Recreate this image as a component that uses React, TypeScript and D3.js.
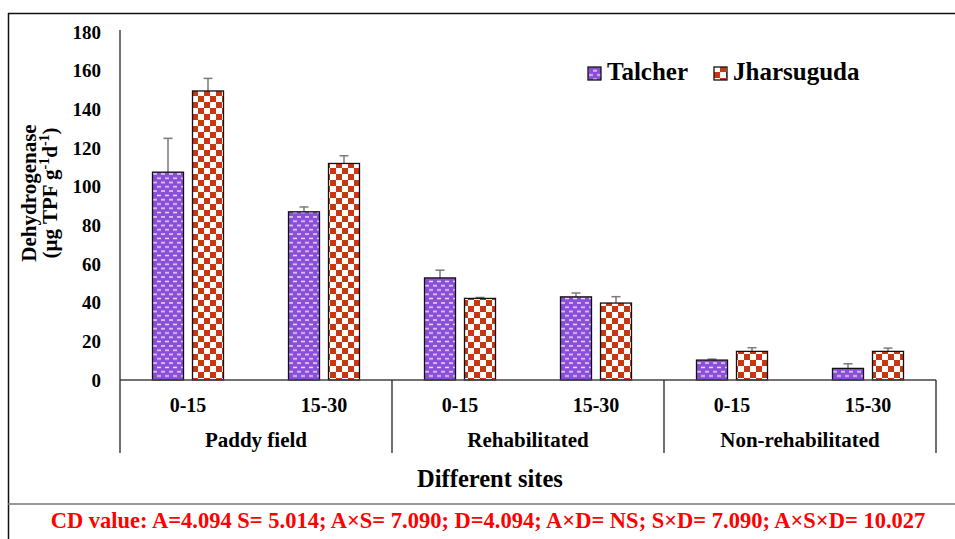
import React, { useRef, useEffect } from 'react';
import * as d3 from 'd3';

const sites = ['Paddy field', 'Rehabilitated', 'Non-rehabilitated'];
const depths = ['0-15', '15-30'];
const seriesNames = ['Talcher', 'Jharsuguda'];
// values ordered site by site, depth by depth
const talcher = [107.5, 87, 52.8, 43, 10.3, 6];
const talcherErr = [17.5, 2.5, 4, 2, 0.5, 2.4];
const jharsuguda = [149.5, 112, 42.2, 39.8, 14.8, 14.8];
const jharsugudaErr = [6.5, 4, 0.5, 3.3, 1.9, 1.7];
const yTicks = [0, 20, 40, 60, 80, 100, 120, 140, 160, 180];
const cdText =
  'CD value: A=4.094 S= 5.014; A×S= 7.090; D=4.094; A×D= NS; S×D= 7.090; A×S×D= 10.027';

const FONT = '"Liberation Serif", "Times New Roman", serif';
const PURPLE = '#8A4ED8';
const RED = '#C8370F';

function App() {
  const chartRef = useRef<SVGSVGElement>(null);

  useEffect(() => {
    drawChart();
  }, []);

  const drawChart = () => {
    const svg = d3.select(chartRef.current);
    svg.selectAll('*').remove();

    const left = 120;
    const right = 936;
    const top = 32;
    const bottom = 380;

    // patterns
    const defs = svg.append('defs');
    const p1 = defs
      .append('pattern')
      .attr('id', 'purp')
      .attr('patternUnits', 'userSpaceOnUse')
      .attr('width', 8)
      .attr('height', 8.6);
    p1.append('rect').attr('width', 8).attr('height', 8.6).attr('fill', PURPLE);
    p1.append('rect').attr('x', 1).attr('y', 1.2).attr('width', 4).attr('height', 1.4).attr('fill', '#fff').attr('opacity', 0.85);
    p1.append('rect').attr('x', 5).attr('y', 5.5).attr('width', 4).attr('height', 1.4).attr('fill', '#fff').attr('opacity', 0.85);
    p1.append('rect').attr('x', -3).attr('y', 5.5).attr('width', 4).attr('height', 1.4).attr('fill', '#fff').attr('opacity', 0.85);

    const p2 = defs
      .append('pattern')
      .attr('id', 'check')
      .attr('patternUnits', 'userSpaceOnUse')
      .attr('width', 12)
      .attr('height', 12);
    p2.append('rect').attr('width', 12).attr('height', 12).attr('fill', RED);
    p2.append('rect').attr('x', 0).attr('y', 0).attr('width', 6).attr('height', 6).attr('fill', '#fff');
    p2.append('rect').attr('x', 6).attr('y', 6).attr('width', 6).attr('height', 6).attr('fill', '#fff');

    const fills = ['url(#purp)', 'url(#check)'];

    // frame
    svg.append('line').attr('x1', 8).attr('x2', 955).attr('y1', 13.5).attr('y2', 13.5).attr('stroke', '#111').attr('stroke-width', 1.5);
    svg.append('line').attr('x1', 8.5).attr('x2', 8.5).attr('y1', 13).attr('y2', 539).attr('stroke', '#111').attr('stroke-width', 1.5);
    svg.append('line').attr('x1', 8).attr('x2', 955).attr('y1', 504).attr('y2', 504).attr('stroke', '#777').attr('stroke-width', 1.5);

    const y = d3.scaleLinear().domain([0, 180]).range([bottom, top]);
    const xSite = d3.scaleBand().domain(sites).range([left, right]);
    const xDepth = d3.scaleBand().domain(depths).range([0, xSite.bandwidth()]);
    const xSeries = d3
      .scaleBand()
      .domain(seriesNames)
      .range([xDepth.bandwidth() / 2 - 35.5, xDepth.bandwidth() / 2 + 35.5])
      .paddingInner(0.225);

    // y tick labels
    svg
      .append('g')
      .selectAll('text')
      .data(yTicks)
      .enter()
      .append('text')
      .attr('x', 101)
      .attr('y', (d) => y(d))
      .attr('dy', '0.35em')
      .attr('text-anchor', 'end')
      .attr('font-family', FONT)
      .attr('font-weight', 'bold')
      .attr('font-size', 19)
      .text((d) => d);

    // y title
    const yt = svg
      .append('text')
      .attr('transform', 'translate(36,193) rotate(-90)')
      .attr('text-anchor', 'middle')
      .attr('font-family', FONT)
      .attr('font-weight', 'bold')
      .attr('font-size', 21);
    yt.append('tspan').attr('x', 0).attr('dy', 0).text('Dehydrogenase');
    const l2 = svg
      .append('text')
      .attr('transform', 'translate(57,193) rotate(-90)')
      .attr('text-anchor', 'middle')
      .attr('font-family', FONT)
      .attr('font-weight', 'bold')
      .attr('font-size', 21);
    l2.append('tspan').text('(µg TPF g');
    l2.append('tspan').attr('font-size', 14).attr('dy', -8).text('-1');
    l2.append('tspan').attr('dy', 8).text('d');
    l2.append('tspan').attr('font-size', 14).attr('dy', -8).text('-1');
    l2.append('tspan').attr('dy', 8).text(')');

    // bars
    const cells: { site: string; depth: string; i: number }[] = [];
    sites.forEach((s, si) => depths.forEach((d, di) => cells.push({ site: s, depth: d, i: si * 2 + di })));
    const seriesData = [
      { name: seriesNames[0], values: talcher, errs: talcherErr },
      { name: seriesNames[1], values: jharsuguda, errs: jharsugudaErr },
    ];

    seriesData.forEach((s, k) => {
      const g = svg.append('g');
      const bx = (c) => (xSite(c.site) as number) + (xDepth(c.depth) as number) + (xSeries(s.name) as number);
      // error bars
      g.selectAll('line.err')
        .data(cells)
        .enter()
        .append('line')
        .attr('x1', (c) => bx(c) + xSeries.bandwidth() / 2)
        .attr('x2', (c) => bx(c) + xSeries.bandwidth() / 2)
        .attr('y1', (c) => y(s.values[c.i]))
        .attr('y2', (c) => y(s.values[c.i] + s.errs[c.i]))
        .attr('stroke', '#7a7a7a')
        .attr('stroke-width', 1.5);
      g.selectAll('line.cap')
        .data(cells)
        .enter()
        .append('line')
        .attr('x1', (c) => bx(c) + xSeries.bandwidth() / 2 - 4.5)
        .attr('x2', (c) => bx(c) + xSeries.bandwidth() / 2 + 4.5)
        .attr('y1', (c) => y(s.values[c.i] + s.errs[c.i]))
        .attr('y2', (c) => y(s.values[c.i] + s.errs[c.i]))
        .attr('stroke', '#7a7a7a')
        .attr('stroke-width', 1.5);
      g.selectAll('rect')
        .data(cells)
        .enter()
        .append('rect')
        .attr('x', (c) => bx(c))
        .attr('y', (c) => y(s.values[c.i]))
        .attr('width', xSeries.bandwidth())
        .attr('height', (c) => bottom - y(s.values[c.i]))
        .attr('fill', fills[k])
        .attr('stroke', '#111')
        .attr('stroke-width', 1.3);
    });

    // axes lines
    svg.append('line').attr('x1', left).attr('x2', left).attr('y1', 30).attr('y2', bottom).attr('stroke', '#444').attr('stroke-width', 1.5);
    svg.append('line').attr('x1', left).attr('x2', right).attr('y1', bottom).attr('y2', bottom).attr('stroke', '#444').attr('stroke-width', 1.5);
    const seps = sites.map((s) => xSite(s) as number).concat([right]);
    svg
      .selectAll('line.sep')
      .data(seps)
      .enter()
      .append('line')
      .attr('x1', (d) => d)
      .attr('x2', (d) => d)
      .attr('y1', bottom)
      .attr('y2', 453)
      .attr('stroke', '#222')
      .attr('stroke-width', 1.3);

    // depth labels
    svg
      .append('g')
      .selectAll('text')
      .data(cells)
      .enter()
      .append('text')
      .attr('x', (c) => (xSite(c.site) as number) + (xDepth(c.depth) as number) + xDepth.bandwidth() / 2)
      .attr('y', 412)
      .attr('text-anchor', 'middle')
      .attr('font-family', FONT)
      .attr('font-weight', 'bold')
      .attr('font-size', 20)
      .text((c) => c.depth);

    // site labels
    svg
      .append('g')
      .selectAll('text')
      .data(sites)
      .enter()
      .append('text')
      .attr('x', (s) => (xSite(s) as number) + xSite.bandwidth() / 2)
      .attr('y', 447)
      .attr('text-anchor', 'middle')
      .attr('font-family', FONT)
      .attr('font-weight', 'bold')
      .attr('font-size', 21)
      .text((s) => s);

    svg
      .append('text')
      .attr('x', 490)
      .attr('y', 487)
      .attr('text-anchor', 'middle')
      .attr('font-family', FONT)
      .attr('font-weight', 'bold')
      .attr('font-size', 24.5)
      .text('Different sites');

    svg
      .append('text')
      .attr('x', 488)
      .attr('y', 528)
      .attr('text-anchor', 'middle')
      .attr('font-family', FONT)
      .attr('font-weight', 'bold')
      .attr('font-size', 22.5)
      .attr('fill', '#FF0000')
      .text(cdText);

    // legend
    const legX = [588, 714];
    seriesNames.forEach((n, k) => {
      svg.append('rect').attr('x', legX[k]).attr('y', 67).attr('width', 13).attr('height', 13).attr('fill', fills[k]).attr('stroke', '#111').attr('stroke-width', 1.3);
      svg
        .append('text')
        .attr('x', legX[k] + 19)
        .attr('y', 80)
        .attr('font-family', FONT)
        .attr('font-weight', 'bold')
        .attr('font-size', 25)
        .text(n);
    });
  };

  return (
    <svg
      ref={chartRef}
      width={955}
      height={539}
      style={{ position: 'absolute', left: 0, top: 0, background: '#fff' }}
    />
  );
}

export default App;
